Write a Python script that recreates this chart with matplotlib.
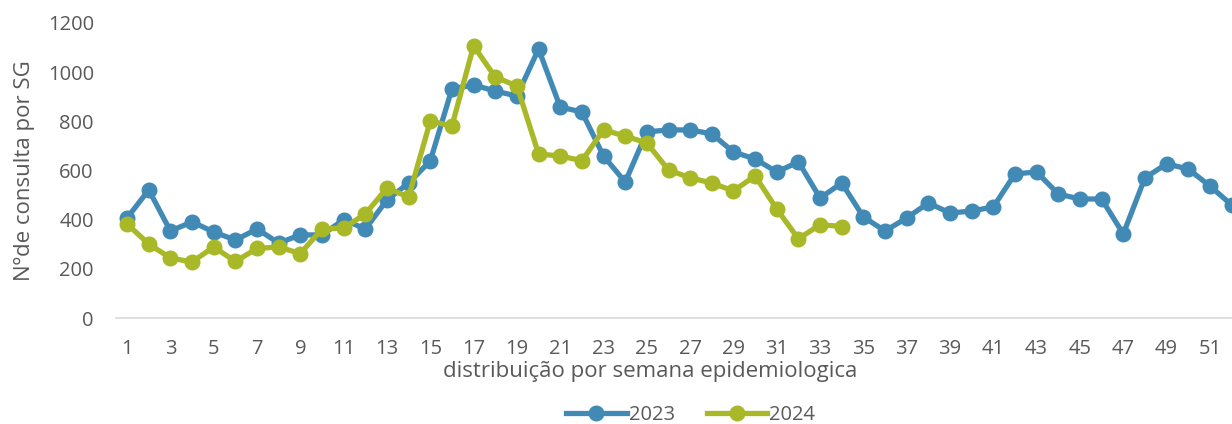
import matplotlib.pyplot as plt

# semanas epidemiologicas
weeks_2023 = list(range(1, 53))
weeks_2024 = list(range(1, 35))

# nº de consultas por SG
sg_2023 = [407, 521, 354, 391, 350, 317, 362, 305, 338, 338,
           400, 362, 480, 549, 639, 932, 948, 923, 903, 1094,
           858, 838, 659, 553, 757, 765, 765, 749, 675, 647,
           594, 635, 488, 549, 411, 354, 407, 468, 427, 435,
           452, 586, 594, 504, 484, 484, 342, 570, 627, 606,
           537, 460]
sg_2024 = [382, 301, 244, 228, 289, 230, 283, 289, 262, 362,
           366, 423, 529, 492, 801, 781, 1107, 980, 944, 667,
           659, 640, 765, 740, 712, 602, 570, 549, 517, 578,
           443, 322, 380, 372]

xtick_labels = [str(w) for w in range(1, 53, 2)]

blue = "#428ab6"
green = "#a8b827"
txt = "#595959"

plt.rcParams['font.family'] = ['Open Sans', 'DejaVu Sans']

fig = plt.figure(figsize=(12.32, 4.24), dpi=100)
ax = fig.add_axes([0.0942, 0.25, 0.9058, 0.6958])

ax.plot(weeks_2023, sg_2023, color=blue, lw=3.8, marker='o', ms=10.5,
        label='2023', clip_on=False, zorder=3)
ax.plot(weeks_2024, sg_2024, color=green, lw=3.8, marker='o', ms=10.5,
        label='2024', clip_on=False, zorder=4)

ax.set_xlim(0.49, 52.02)
ax.set_ylim(0, 1200)
ax.set_yticks(range(0, 1201, 200))
ax.set_xticks(range(1, 53, 2))
ax.set_xticklabels(xtick_labels)

for s in ['top', 'right', 'left']:
    ax.spines[s].set_visible(False)
ax.spines['bottom'].set_color('#d9d9d9')
ax.spines['bottom'].set_linewidth(1.2)

ax.tick_params(axis='both', length=0, labelsize=14.5, colors=txt)
ax.tick_params(axis='x', pad=15)
ax.tick_params(axis='y', pad=16)

ax.set_xlabel('distribuição por semana epidemiologica', fontsize=16, color=txt,
              labelpad=0)
ax.xaxis.set_label_coords(0.479, -0.145)
ax.set_ylabel('Nºde consulta por SG', fontsize=16, color=txt)
ax.yaxis.set_label_coords(-0.073, 0.5)

leg = ax.legend(loc='center', bbox_to_anchor=(0.515, -0.33),
                ncol=2, frameon=False, fontsize=14.5, handlelength=3.0,
                handletextpad=0.1, columnspacing=1.6, labelcolor=txt)

fig.savefig('out.png', dpi=100)
